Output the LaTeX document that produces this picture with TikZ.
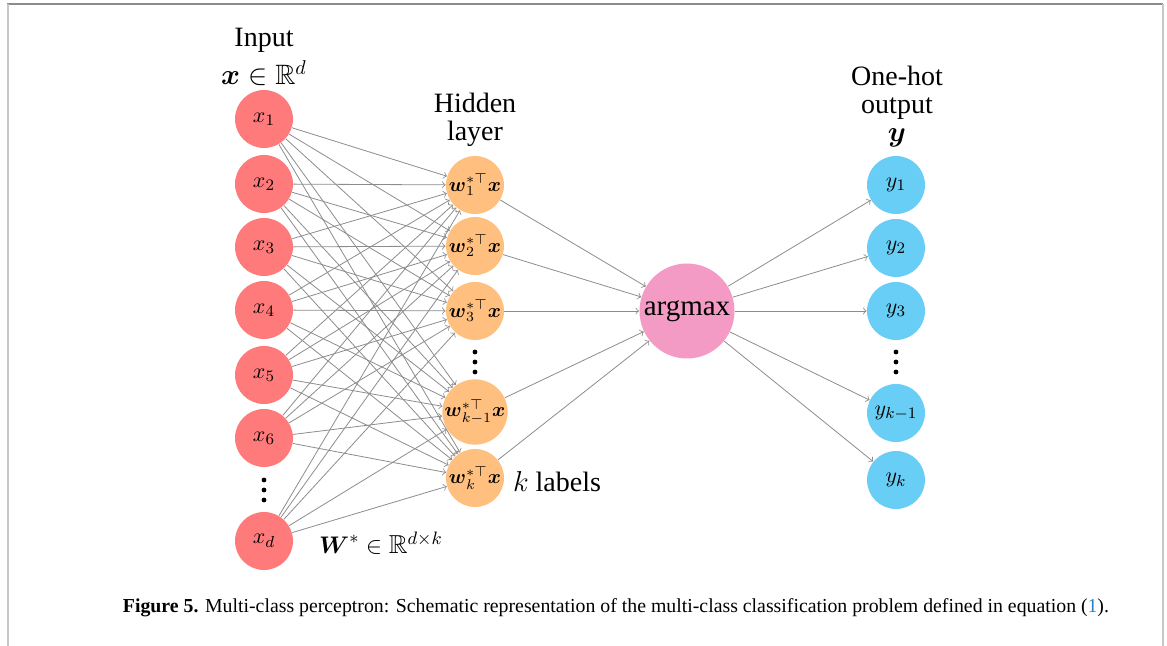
\documentclass[tikz,border=0pt]{standalone}
\usepackage{amsmath}
\usepackage{amsfonts}
\usepackage{amssymb}
\usepackage{fontspec}
\setmainfont{Liberation Serif}
\usepackage{xcolor}
\usepackage{tikz}
\usetikzlibrary{arrows,calc,positioning}
\definecolor{inred}{RGB}{255,123,123}
\definecolor{hidorange}{RGB}{255,191,127}
\definecolor{argpink}{RGB}{243,155,196}
\definecolor{outblue}{RGB}{104,206,245}
\definecolor{eqblue}{RGB}{40,130,190}
\newcommand{\hidlabel}[1]{$\boldsymbol{w}_{#1}^{*\top}\boldsymbol{x}$}
\newcommand{\vdotsat}[2]{
	\fill (#1, #2-10) circle (2.4);
	\fill (#1, #2) circle (2.4);
	\fill (#1, #2+10) circle (2.4);
	}

\begin{document}
\begin{tikzpicture}[x=0.5pt, y=-0.5pt,
	neuron/.style={circle, minimum size=29pt, inner sep=0pt, font=\fontsize{11}{13}\selectfont},
	inneuron/.style={neuron, fill=inred},
	hidneuron/.style={neuron, fill=hidorange, font=\fontsize{9.8}{11}\selectfont},
	outneuron/.style={neuron, fill=outblue},
	link/.style={->, black!45, line width=0.4pt},
	heading/.style={font=\fontsize{14}{14}\selectfont, inner sep=0pt, align=center}]

	\useasboundingbox (0,0) rectangle (1167,646);

	% frame
	\draw[black!45, line width=0.6pt] (7,4) -- (1163,4);
	\draw[black!22, line width=1pt] (7.5,4) -- (7.5,646);
	\draw[black!22, line width=1pt] (1163,4) -- (1163,646);

	% input layer
	\node[inneuron] (x1) at (264,119) {$x_1$};
	\node[inneuron] (x2) at (264,184) {$x_2$};
	\node[inneuron] (x3) at (264,247) {$x_3$};
	\node[inneuron] (x4) at (264,310) {$x_4$};
	\node[inneuron] (x5) at (264,375) {$x_5$};
	\node[inneuron] (x6) at (264,438) {$x_6$};
	\node[inneuron] (xd) at (264,541) {$x_d$};
	\vdotsat{264}{490}

	% hidden layer
	\node[hidneuron] (h1) at (475,185) {\hidlabel{1}};
	\node[hidneuron] (h2) at (475,246) {\hidlabel{2}};
	\node[hidneuron] (h3) at (475,311) {\hidlabel{3}};
	\node[hidneuron] (hkm) at (475,412) {\hidlabel{k-1}};
	\node[hidneuron] (hk) at (475,478) {\hidlabel{k}};
	\vdotsat{475}{362}

	% argmax
	\node[circle, fill=argpink, minimum size=47.5pt, inner sep=0pt, font=\fontsize{14.5}{17}\selectfont] (am) at (687,311) {argmax};

	% output layer
	\node[outneuron] (y1) at (896,185) {$y_1$};
	\node[outneuron] (y2) at (896,248) {$y_2$};
	\node[outneuron] (y3) at (896,311) {$y_3$};
	\node[outneuron] (ykm) at (896,413) {$y_{k-1}$};
	\node[outneuron] (yk) at (896,480) {$y_k$};
	\vdotsat{896}{362}

	% connections
	\foreach \a in {x1,x2,x3,x4,x5,x6,xd}
		\foreach \b in {h1,h2,h3,hkm,hk}
			\draw[link] (\a) -- (\b);
	\foreach \b in {h1,h2,h3,hkm,hk}
		\draw[link] (\b) -- (am);
	\foreach \c in {y1,y2,y3,ykm,yk}
		\draw[link] (am) -- (\c);

	% labels
	\node[heading, font=\fontsize{14}{14}\selectfont] (inlab) at (264,57) {Input\\[3pt]$\boldsymbol{x}\in\mathbb{R}^d$};
	\node[heading] (hidlab) at (475,120) {Hidden\\layer};
	\node[heading] (outlab) at (897,107) {One-hot\\output\\$\boldsymbol{y}$};
	\node[heading] (klab) at (557,482) {$k$ labels};
	\node[heading, font=\fontsize{13}{14}\selectfont] (wlab) at (381,543) {$\boldsymbol{W}^{*}\in\mathbb{R}^{d\times k}$};

	% caption
	\node[font=\fontsize{9.9}{11}\selectfont, inner sep=0pt] (cap) at (616,608) {\textbf{Figure 5.} Multi-class perceptron: Schematic representation of the multi-class classification problem defined in equation (\textcolor{eqblue}{1}).};

\end{tikzpicture}
\end{document}
